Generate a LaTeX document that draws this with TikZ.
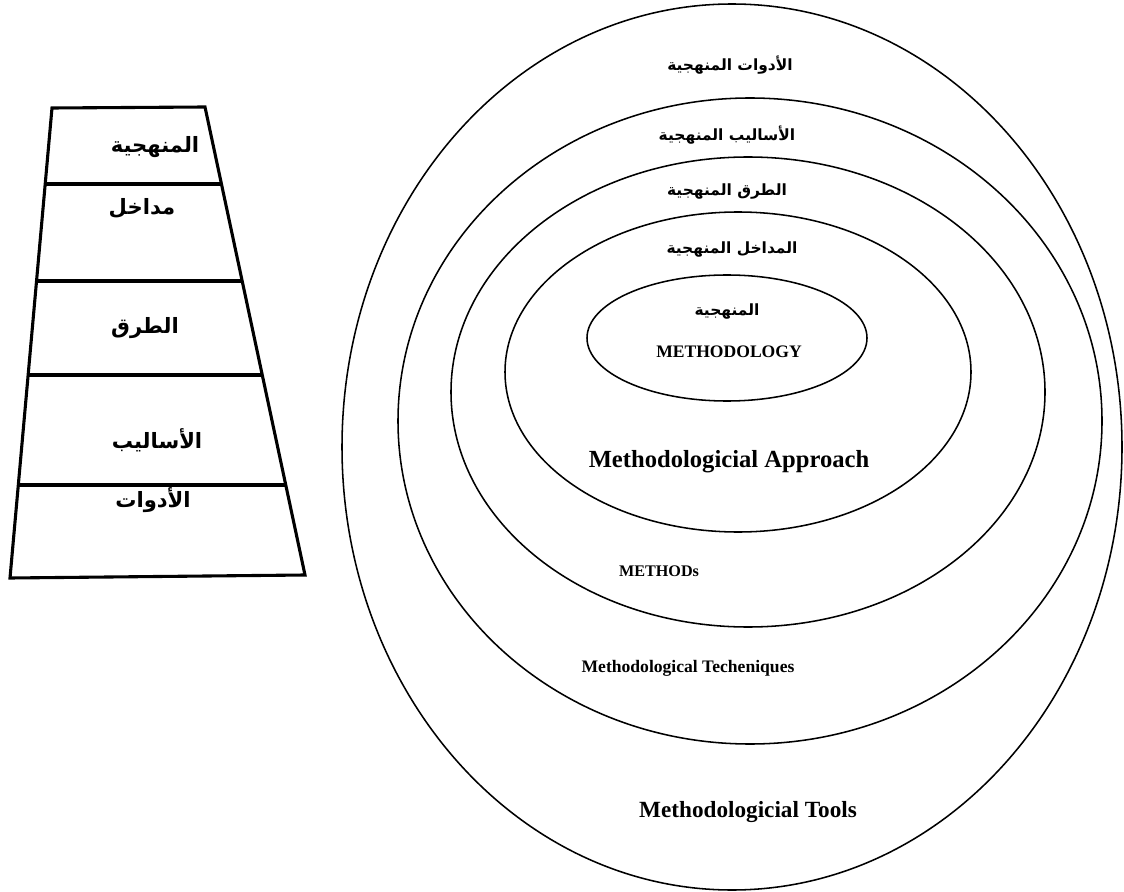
\documentclass[tikz,border=0pt]{standalone}
\usepackage{fontspec}
\setmainfont{Liberation Serif}
\newfontfamily\arabicfont[Script=Arabic]{DejaVu Sans}
\TeXXeTstate=1
\newcommand{\artxt}[1]{\beginR #1\endR}

\tikzset{
  ring/.style={line width=1.1pt},
  ladder/.style={line width=2.2pt, line join=miter},
  arbig/.style={inner sep=0pt, font=\arabicfont\bfseries\fontsize{15}{17}\selectfont},
  arsmall/.style={inner sep=0pt, font=\arabicfont\bfseries\fontsize{11}{13}\selectfont},
  entext/.style={inner sep=0pt, font=\bfseries\fontsize{#1}{#1}\selectfont},
  entext/.default=10
}

\begin{document}
\begin{tikzpicture}[x=0.025cm, y=-0.025cm]
  \useasboundingbox (0,0) rectangle (1124,892);
  % Ladder
  \coordinate (tl) at (52,108);
  \coordinate (tr) at (205,107);
  \coordinate (br) at (305,575);
  \coordinate (bl) at (10,578);
  \draw[ladder] (tl) -- (tr) -- (br) -- (bl) -- cycle;
  \foreach \yy/\lx/\rx in {184/45.2/221.5, 281/36.5/242.2, 375/28.1/262.1, 485/18.3/285.6}
    \draw[ladder] (\lx,\yy) -- (\rx,\yy);
  \node[arbig] (lmeth) at (155,147) {\artxt{المنهجية}};
  \node[arbig] (lappr) at (142,208) {\artxt{مداخل}};
  \node[arbig] (lmeths) at (145,328) {\artxt{الطرق}};
  \node[arbig] (ltech) at (157,440) {\artxt{الأساليب}};
  \node[arbig] (ltools) at (153,500) {\artxt{الأدوات}};
  % Rings
  \draw[ring] (732,447) ellipse [x radius=390, y radius=443];
  \draw[ring] (750,421) ellipse [x radius=352, y radius=323];
  \draw[ring] (748,392) ellipse [x radius=297, y radius=235];
  \draw[ring] (738,372) ellipse [x radius=233, y radius=160];
  \draw[ring] (727,338) ellipse [x radius=140, y radius=63];
  % Arabic labels
  \node[arsmall] (rtools) at (730,65) {\artxt{الأدوات المنهجية}};
  \node[arsmall] (rtech) at (727,135) {\artxt{الأساليب المنهجية}};
  \node[arsmall] (rmeths) at (727,192) {\artxt{الطرق المنهجية}};
  \node[arsmall] (rappr) at (732,250) {\artxt{المداخل المنهجية}};
  \node[arsmall] (rmeth) at (727,312) {\artxt{المنهجية}};
  % English labels
  \node[entext=12.5] (emeth) at (729,352) {METHODOLOGY};
  \node[entext=17.5] (eappr) at (729,462) {Methodologicial Approach};
  \node[entext=11.5] (emeths) at (659,571) {METHODs};
  \node[entext=12.5] (etech) at (688,668) {Methodological Techeniques};
  \node[entext=16.5] (etools) at (748,812) {Methodologicial Tools};
\end{tikzpicture}
\end{document}
